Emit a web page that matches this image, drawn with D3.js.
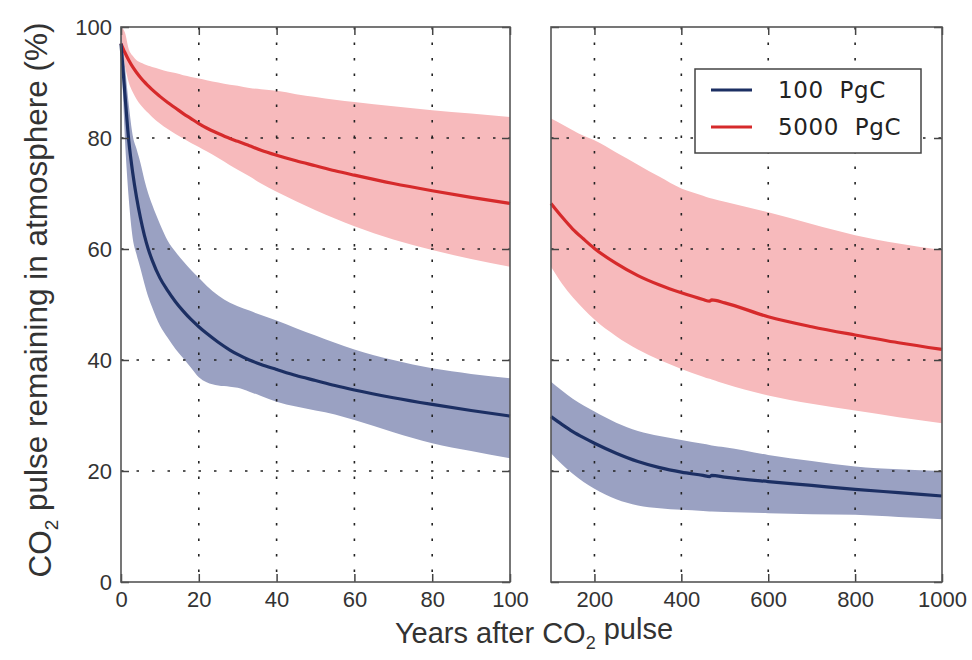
<!DOCTYPE html>
<html>
<head>
<meta charset="utf-8">
<script src="https://cdn.jsdelivr.net/npm/d3@7"></script>
<style>
  body { margin: 0; background: #fff; }
  svg { display: block; }
  .tick text { font-family: "Liberation Sans", Arial, sans-serif; font-size: 22px; fill: #333; }
</style>
</head>
<body>
<div id="chart"></div>
<script>
// ---- data ----
// left panel: first 100 years
const yearsShort = [0, 1, 2, 3, 4, 5, 6, 7, 8, 10, 12, 14, 16, 18, 20, 22, 25, 28, 30, 33, 36, 40, 45, 50, 55, 60, 70, 80, 90, 100]
const small100Mean = [97, 88, 79.5, 73.8, 69.3, 65.6, 62.5, 60, 58, 54.8, 52.5, 50.5, 48.8, 47.3, 46, 44.8, 43.2, 41.8, 41, 40, 39.2, 38.3, 37.2, 36.3, 35.4, 34.6, 33.2, 32, 30.9, 29.9]
const small100Hi   = [99, 93, 86, 80.5, 78, 75.5, 72.5, 70, 68, 64.5, 61.5, 59.5, 57.8, 56.2, 54.8, 53.4, 51.6, 50.3, 49.7, 48.9, 48.1, 47.1, 45.7, 44.4, 43.1, 41.9, 40, 38.5, 37.5, 36.7]
const small100Lo   = [97, 80, 69, 62, 59, 56.5, 53.8, 51.4, 49.5, 46.2, 44, 42, 40.3, 38.6, 36.9, 36, 35.4, 35.2, 35, 34.3, 33.5, 32.5, 31.6, 30.9, 30.2, 29.2, 27, 25, 23.6, 22.3]
const small5000Mean = [97, 95.4, 94, 92.8, 91.8, 90.9, 90.1, 89.4, 88.7, 87.5, 86.4, 85.4, 84.4, 83.5, 82.6, 81.8, 80.8, 79.9, 79.4, 78.6, 77.8, 76.9, 75.9, 75, 74.1, 73.3, 71.8, 70.5, 69.3, 68.2]
const small5000Hi   = [100, 99, 96, 94.8, 94, 93.6, 93.3, 93, 92.8, 92.4, 92, 91.7, 91.3, 91, 90.7, 90.4, 90, 89.6, 89.4, 89, 88.8, 88.5, 87.9, 87.4, 86.9, 86.5, 85.7, 85, 84.4, 83.8]
const small5000Lo   = [97, 93, 90, 88.3, 87, 86, 85.2, 84.5, 83.8, 82.6, 81.6, 80.7, 79.9, 79.1, 78.4, 77.6, 76.4, 75.1, 74.3, 73.1, 71.8, 70.3, 68.6, 67, 65.5, 64.1, 61.7, 59.8, 58.2, 56.8]

// right panel: 100 to 1000 years
const yearsLong = [100, 125, 150, 175, 200, 250, 300, 350, 400, 450, 465, 470, 500, 600, 700, 800, 900, 1000]
const long100Mean = [29.8, 28.4, 27.1, 26, 25, 23.2, 21.7, 20.6, 19.8, 19.2, 19.0, 19.2, 18.9, 18.1, 17.4, 16.7, 16.1, 15.5]
const long100Hi   = [36.1, 34.5, 33, 31.8, 30.7, 28.7, 27.2, 26.3, 25.6, 24.9, 24.7, 24.6, 24.3, 22.9, 21.8, 20.8, 20.3, 20]
const long100Lo   = [23.2, 21.2, 19.5, 18, 16.8, 14.9, 13.8, 13.3, 13, 12.8, 12.7, 12.7, 12.6, 12.4, 12.2, 12.1, 11.7, 11.3]
const long5000Mean = [68.2, 65.8, 63.6, 61.8, 60.1, 57.4, 55.2, 53.5, 52.1, 50.9, 50.6, 50.85, 50.3, 47.8, 46, 44.5, 43.1, 41.9]
const long5000Hi   = [83.5, 82.5, 81.4, 80.4, 79.6, 77.4, 75.2, 73, 70.9, 69.6, 69.2, 69.1, 68.5, 66.6, 64.5, 62.5, 61, 59.8]
const long5000Lo   = [56.8, 53.8, 51.3, 49.2, 47.3, 44.3, 41.9, 40, 38.4, 37, 36.6, 36.5, 35.7, 33.6, 32.1, 30.9, 29.7, 28.6]

const yTicks = [0, 20, 40, 60, 80, 100]
const xTicksShort = [0, 20, 40, 60, 80, 100]
const xTicksLong = [200, 400, 600, 800, 1000]
const seriesNames = ["100  PgC", "5000  PgC"]

// ---- layout ----
const W = 972, H = 660
const plotTop = 27, plotBottom = 582
const blueLine = "#1c2f63", blueBand = "#9aa1c2"
const redLine = "#d62a2b", redBand = "#f7babc"

const svg = d3.select("#chart").append("svg")
  .attr("width", W).attr("height", H)

const y = d3.scaleLinear().domain([0, 100]).range([plotBottom, plotTop])

const panels = [
  { x: d3.scaleLinear().domain([0, 100]).range([121, 510]), years: yearsShort, xTicks: xTicksShort,
    grid: [20, 40, 60, 80], yLabels: true,
    series: [
      { mean: small5000Mean, hi: small5000Hi, lo: small5000Lo, line: redLine, band: redBand },
      { mean: small100Mean, hi: small100Hi, lo: small100Lo, line: blueLine, band: blueBand }
    ] },
  { x: d3.scaleLinear().domain([100, 1000]).range([551, 942]), years: yearsLong, xTicks: xTicksLong,
    grid: [200, 400, 600, 800], yLabels: false,
    series: [
      { mean: long5000Mean, hi: long5000Hi, lo: long5000Lo, line: redLine, band: redBand },
      { mean: long100Mean, hi: long100Hi, lo: long100Lo, line: blueLine, band: blueBand }
    ] }
]

panels.forEach(p => {
  const x = p.x
  const [x0, x1] = x.range()
  const g = svg.append("g")

  // bands
  p.series.forEach(s => {
    const area = d3.area()
      .x((d, i) => x(p.years[i]))
      .y0((d, i) => y(s.lo[i]))
      .y1((d, i) => y(s.hi[i]))
      .curve(d3.curveMonotoneX)
    g.append("path").datum(s.mean)
      .attr("d", area)
      .attr("fill", s.band)
  })

  // dotted grid
  const gridG = g.append("g")
  gridG.selectAll(".vg").data(p.grid).enter().append("line")
    .attr("x1", d => x(d)).attr("x2", d => x(d))
    .attr("y1", plotTop).attr("y2", plotBottom)
  gridG.selectAll(".hg").data([20, 40, 60, 80]).enter().append("line")
    .attr("x1", x0).attr("x2", x1)
    .attr("y1", d => y(d)).attr("y2", d => y(d))
  gridG.selectAll("line")
    .attr("stroke", "#222").attr("stroke-width", 1.6)
    .attr("stroke-dasharray", "2.5,13")

  // mean lines
  p.series.forEach(s => {
    const line = d3.line()
      .x((d, i) => x(p.years[i]))
      .y(d => y(d))
      .curve(d3.curveMonotoneX)
    g.append("path").datum(s.mean)
      .attr("d", line)
      .attr("fill", "none")
      .attr("stroke", s.line)
      .attr("stroke-width", 3.2)
  })

  // axes with inward ticks
  const xb = d3.axisBottom(x).tickValues(p.xTicks).tickSize(-8).tickPadding(9).tickFormat(d3.format("d"))
  const xt = d3.axisTop(x).tickValues(p.xTicks).tickSize(-8).tickFormat("")
  const yl = d3.axisLeft(y).tickValues(yTicks).tickSize(-8).tickPadding(9)
  const yr = d3.axisRight(y).tickValues(yTicks).tickSize(-8).tickFormat("")
  if (!p.yLabels) yl.tickFormat("")

  g.append("g").attr("transform", `translate(0,${plotBottom})`).call(xb)
  g.append("g").attr("transform", `translate(0,${plotTop})`).call(xt)
  g.append("g").attr("transform", `translate(${x0},0)`).call(yl)
  g.append("g").attr("transform", `translate(${x1},0)`).call(yr)
  g.selectAll(".domain").remove()
  g.selectAll(".tick line").attr("stroke", "#444").attr("stroke-width", 1.5)

  // frame
  g.append("rect")
    .attr("x", x0).attr("y", plotTop)
    .attr("width", x1 - x0).attr("height", plotBottom - plotTop)
    .attr("fill", "none").attr("stroke", "#555").attr("stroke-width", 1.6)
})

// y axis title
const yt = svg.append("text")
  .attr("transform", "translate(51,300) rotate(-90)")
  .attr("text-anchor", "middle")
  .style("font-family", "Liberation Sans, Arial, sans-serif")
  .style("font-size", "31.5px").style("fill", "#333")
yt.append("tspan").text("CO")
yt.append("tspan").text("2").style("font-size", "19px").attr("dy", "0.35em")
yt.append("tspan").text(" pulse remaining in atmosphere (%)").attr("dy", "-0.35em")

// x axis title
const xtl = svg.append("text")
  .attr("x", 534).attr("y", 643)
  .attr("text-anchor", "middle")
  .style("font-family", "Liberation Sans, Arial, sans-serif")
  .style("font-size", "29px").style("fill", "#333")
xtl.append("tspan").text("Years after CO")
xtl.append("tspan").text("2").style("font-size", "18px").attr("dy", "0.35em")
xtl.append("tspan").text(" pulse").attr("dy", "-0.35em")

// legend
const leg = svg.append("g")
leg.append("rect")
  .attr("x", 695).attr("y", 69).attr("width", 226).attr("height", 84)
  .attr("fill", "#fff").attr("stroke", "#444").attr("stroke-width", 1.5)
const legColors = [blueLine, redLine]
seriesNames.forEach((name, i) => {
  const ly = 90 + i * 37
  leg.append("line")
    .attr("x1", 711).attr("x2", 752).attr("y1", ly).attr("y2", ly)
    .attr("stroke", legColors[i]).attr("stroke-width", 3.2)
  leg.append("text")
    .attr("x", 778).attr("y", ly + 8)
    .attr("xml:space", "preserve")
    .style("white-space", "pre")
    .style("font-family", "DejaVu Sans, sans-serif")
    .style("font-size", "23px").style("letter-spacing", "0.6px").style("fill", "#222")
    .text(name)
})
</script>
</body>
</html>
